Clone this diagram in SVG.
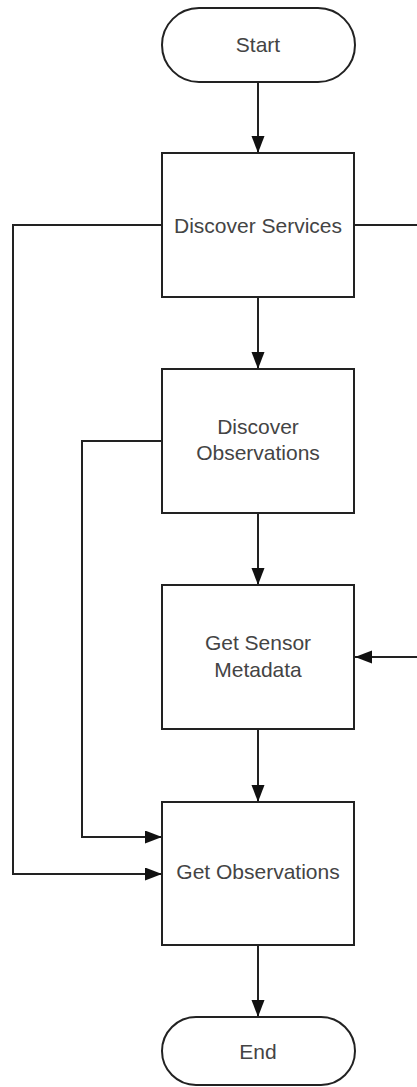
<svg xmlns="http://www.w3.org/2000/svg" width="417" height="1087" viewBox="0 0 417 1087">
<defs>
<marker id="arr" markerUnits="userSpaceOnUse" markerWidth="18" markerHeight="14" refX="17" refY="6.5" orient="auto">
<path d="M0,0 L17,6.5 L0,13 z" fill="#111"/>
</marker>
<style>
.n{fill:#fff;stroke:#222;stroke-width:2}
.t{font-family:"Liberation Sans",Arial,sans-serif;font-size:21px;fill:#444;text-anchor:middle}
.c{fill:none;stroke:#222;stroke-width:2;marker-end:url(#arr)}
.c2{fill:none;stroke:#222;stroke-width:2}
</style>
</defs>
<rect width="417" height="1087" fill="#fff"/>
<g id="connectors">
<path class="c" d="M258,82 V153"/>
<path class="c" d="M258,297 V369"/>
<path class="c" d="M258,513 V585"/>
<path class="c" d="M258,729 V802"/>
<path class="c" d="M258,945 V1017"/>
<path class="c" d="M162,225 H13 V874 H162"/>
<path class="c" d="M162,441 H82 V837 H162"/>
<path class="c" d="M354,225 H420 V657 H355"/>
</g>
<g id="start">
<rect class="n" x="162" y="8" width="193" height="74" rx="37"/>
<text class="t" x="258" y="52">Start</text>
</g>
<g id="discover-services">
<rect class="n" x="162" y="153" width="192" height="144"/>
<text class="t" x="258" y="233">Discover Services</text>
</g>
<g id="discover-observations">
<rect class="n" x="162" y="369" width="192" height="144"/>
<text class="t" x="258" y="434">Discover</text>
<text class="t" x="258" y="460">Observations</text>
</g>
<g id="get-sensor-metadata">
<rect class="n" x="162" y="585" width="192" height="144"/>
<text class="t" x="258" y="650">Get Sensor</text>
<text class="t" x="258" y="677">Metadata</text>
</g>
<g id="get-observations">
<rect class="n" x="162" y="802" width="192" height="143"/>
<text class="t" x="258" y="879">Get Observations</text>
</g>
<g id="end">
<rect class="n" x="162" y="1017" width="193" height="68" rx="34"/>
<text class="t" x="258" y="1059">End</text>
</g>
</svg>
